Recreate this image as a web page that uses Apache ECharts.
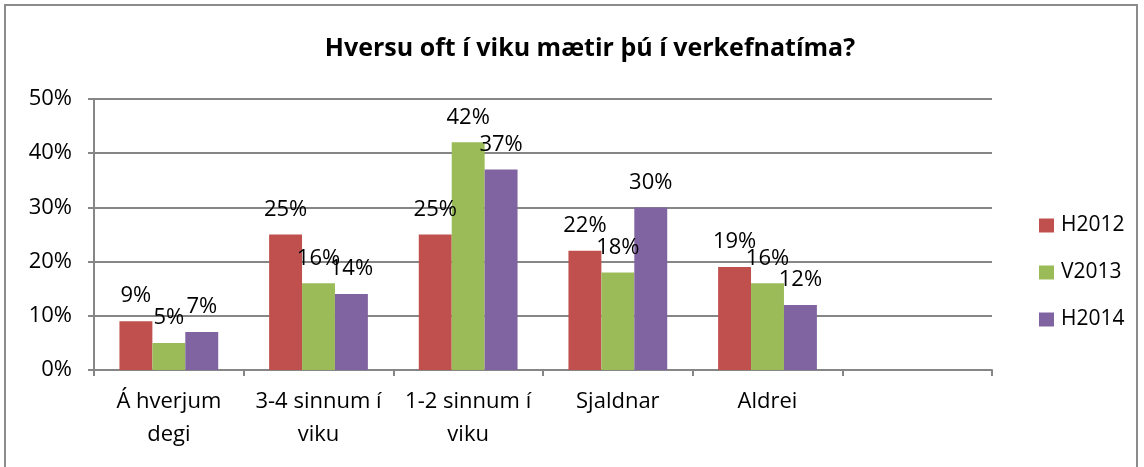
<!DOCTYPE html>
<html>
<head>
<meta charset="utf-8">
<script src="https://cdn.jsdelivr.net/npm/echarts@6/dist/echarts.min.js"></script>
<style>
html,body{margin:0;padding:0;background:#fff;overflow:hidden;}
#frame{position:absolute;left:4px;top:4px;width:1134px;height:480px;border:2px solid #8c8c8c;box-sizing:border-box;}
#chart{position:absolute;left:0;top:0;width:1144px;height:467px;}
</style>
</head>
<body>
<div id="frame"></div>
<div id="chart"></div>
<script>
const titleText = 'Hversu oft í viku mætir þú í verkefnatíma?';
const categories = ['Á hverjum\ndegi', '3-4 sinnum í\nviku', '1-2 sinnum í\nviku', 'Sjaldnar', 'Aldrei', ''];
const seriesNames = ['H2012', 'V2013', 'H2014'];
const h2012 = [9, 25, 25, 22, 19];
const v2013 = [5, 16, 42, 18, 16];
const h2014 = [7, 14, 37, 30, 12];
const yTicks = [0, 10, 20, 30, 40, 50];
const colors = ['#C0504D', '#9BBB59', '#8064A2'];

const FONT = '"Open Sans", "Noto Sans", sans-serif';
const FS = 22;
const chart = echarts.init(document.getElementById('chart'), null, {renderer: 'canvas'});
const values = [h2012, v2013, h2014];
chart.setOption({
  animation: false,
  textStyle: {fontFamily: FONT},
  title: {
    text: titleText,
    left: 585, top: 31, textAlign: 'center',
    textStyle: {fontFamily: FONT, fontWeight: 'bold', fontSize: 25, color: '#000'}
  },
  legend: {
    orient: 'vertical', left: 1034, top: 210,
    itemWidth: 15, itemHeight: 14, itemGap: 26,
    icon: 'rect',
    textStyle: {fontFamily: FONT, fontSize: 21, color: '#000', padding: [0, 0, 0, 2]},
    data: seriesNames
  },
  grid: {left: 94, right: 152, top: 99, bottom: 97, containLabel: false},
  xAxis: {
    type: 'category', data: categories,
    axisLine: {lineStyle: {color: '#868686', width: 2}},
    axisTick: {show: true, length: 6, lineStyle: {color: '#868686', width: 2}},
    axisLabel: {fontFamily: FONT, fontSize: FS, color: '#000', margin: 15, lineHeight: 33, interval: 0},
    splitLine: {show: false}
  },
  yAxis: {
    type: 'value', min: yTicks[0], max: yTicks[yTicks.length - 1], interval: 10,
    axisLine: {show: true, lineStyle: {color: '#868686', width: 2}},
    axisTick: {show: true, length: 6, inside: false, lineStyle: {color: '#868686', width: 2}},
    axisLabel: {fontFamily: FONT, fontSize: FS, color: '#000', margin: 22, formatter: '{value}%'},
    splitLine: {lineStyle: {color: '#868686', width: 2}}
  },
  series: seriesNames.map((n, i) => ({
    name: n, type: 'bar', data: values[i],
    barGap: '0%', barCategoryGap: '34%',
    itemStyle: {color: colors[i]},
    label: {show: true, position: 'top', distance: 14, formatter: '{c}%', fontFamily: FONT, fontSize: FS, color: '#000'}
  }))
});
</script>
</body>
</html>
